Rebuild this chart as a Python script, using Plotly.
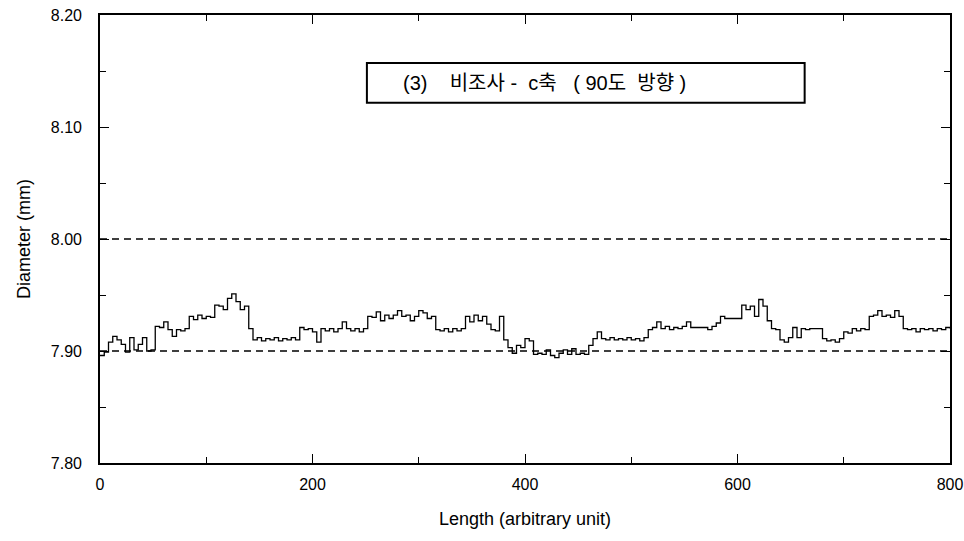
import plotly.graph_objects as go

# Diameter profile along the specimen, sampled every 4 length units
length = list(range(0, 801, 4))
diameter = [
    7.896, 7.899, 7.908, 7.913, 7.910, 7.906, 7.899, 7.912, 7.901, 7.906,
    7.912, 7.900, 7.901, 7.922, 7.921, 7.926, 7.919, 7.913, 7.919, 7.918,
    7.920, 7.931, 7.928, 7.932, 7.929, 7.931, 7.930, 7.941, 7.940, 7.937,
    7.947, 7.951, 7.944, 7.937, 7.940, 7.920, 7.910, 7.912, 7.909, 7.911,
    7.910, 7.912, 7.909, 7.911, 7.910, 7.912, 7.910, 7.921, 7.919, 7.920,
    7.917, 7.908, 7.920, 7.918, 7.920, 7.917, 7.920, 7.926, 7.920, 7.918,
    7.920, 7.917, 7.920, 7.931, 7.930, 7.935, 7.927, 7.932, 7.929, 7.932,
    7.936, 7.931, 7.932, 7.927, 7.931, 7.936, 7.934, 7.929, 7.931, 7.919,
    7.918, 7.920, 7.917, 7.920, 7.918, 7.920, 7.931, 7.926, 7.932, 7.927,
    7.931, 7.924, 7.919, 7.918, 7.931, 7.910, 7.903, 7.898, 7.905, 7.903,
    7.911, 7.909, 7.897, 7.898, 7.897, 7.901, 7.896, 7.894, 7.898, 7.901,
    7.897, 7.902, 7.897, 7.898, 7.897, 7.905, 7.911, 7.917, 7.911, 7.910,
    7.912, 7.910, 7.911, 7.910, 7.912, 7.910, 7.911, 7.909, 7.912, 7.919,
    7.921, 7.926, 7.920, 7.922, 7.919, 7.921, 7.920, 7.922, 7.926, 7.921,
    7.921, 7.921, 7.921, 7.919, 7.922, 7.925, 7.931, 7.929, 7.929, 7.929,
    7.929, 7.941, 7.937, 7.940, 7.931, 7.946, 7.940, 7.927, 7.920, 7.919,
    7.910, 7.908, 7.912, 7.921, 7.912, 7.920, 7.919, 7.920, 7.920, 7.920,
    7.911, 7.909, 7.910, 7.908, 7.911, 7.917, 7.916, 7.920, 7.918, 7.920,
    7.919, 7.931, 7.932, 7.936, 7.931, 7.932, 7.930, 7.936, 7.931, 7.920,
    7.919, 7.920, 7.917, 7.920, 7.919, 7.920, 7.918, 7.920, 7.919, 7.921,
    7.920,
]

# Tolerance reference levels (mm)
reference_levels = [7.90, 8.00]

x_ticks = [0, 200, 400, 600, 800]
y_ticks = [7.80, 7.90, 8.00, 8.10, 8.20]
y_tick_labels = ["7.80", "7.90", "8.00", "8.10", "8.20"]

NB = "\u00a0"
caption = ("(3)" + NB * 4 + "비조사" + NB + "-" + NB * 2 + "c축" + NB * 3 + "("
           + NB + "90도" + NB * 2 + "방향" + NB + ")")

fig = go.Figure()

for level in reference_levels:
    fig.add_trace(go.Scatter(
        x=[x_ticks[0], x_ticks[-1]], y=[level, level], mode="lines",
        line=dict(color="black", width=1.4, dash="7px,5px"),
        hoverinfo="skip", showlegend=False,
    ))

fig.add_trace(go.Scatter(
    x=length, y=diameter, mode="lines", line_shape="hv",
    line=dict(color="black", width=1.3), showlegend=False,
))

# Caption box
fig.add_shape(type="rect", xref="paper", yref="paper",
              x0=0.314, x1=0.829, y0=0.804, y1=0.893,
              line=dict(color="black", width=2), fillcolor="white", layer="above")
fig.add_annotation(xref="paper", yref="paper", x=0.354, y=0.849,
                   xanchor="left", yanchor="middle", showarrow=False,
                   text=caption,
                   font=dict(family="Liberation Sans, Noto Sans CJK KR", size=20, color="black"))

axis_common = dict(
    showgrid=False, zeroline=False, showline=True, linecolor="black", linewidth=1.6,
    mirror="allticks", ticks="inside", ticklen=9, tickwidth=1.3, tickcolor="black",
    tickfont=dict(family="Liberation Sans", size=16, color="black"),
    automargin=False,
)

fig.update_xaxes(
    range=[0, 800], tickvals=x_ticks,
    ticklabelstandoff=6,
    minor=dict(ticks="inside", dtick=100, ticklen=6, tickwidth=1.1, tickcolor="black"),
    title=dict(text="Length (arbitrary unit)", standoff=20,
               font=dict(family="Liberation Sans", size=18, color="black")),
    **axis_common,
)
fig.update_yaxes(
    range=[7.80, 8.20], tickvals=y_ticks, ticktext=y_tick_labels,
    ticklabelstandoff=13,
    minor=dict(ticks="inside", dtick=0.05, ticklen=6, tickwidth=1.1, tickcolor="black"),
    title=dict(text="Diameter (mm)", standoff=16,
               font=dict(family="Liberation Sans", size=18, color="black")),
    **axis_common,
)

fig.update_layout(
    width=964, height=541,
    margin=dict(l=100, r=14, t=15, b=78),
    paper_bgcolor="white", plot_bgcolor="white",
)

fig.write_html("out.html")
